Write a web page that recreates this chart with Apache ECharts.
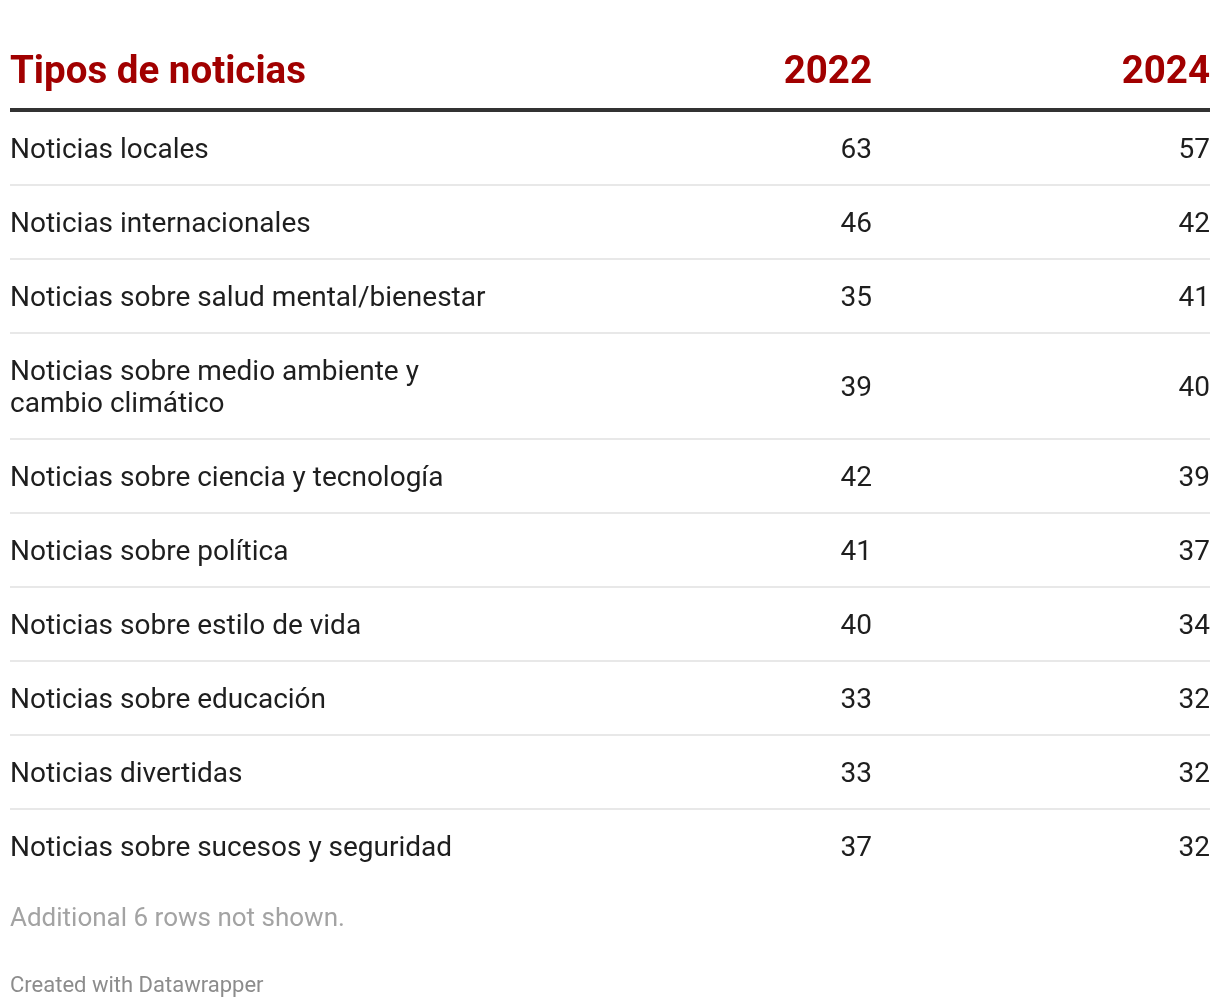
<!DOCTYPE html>
<html>
<head>
<meta charset="utf-8">
<style>
html,body{margin:0;padding:0;background:#fff;}
#chart{width:1220px;height:1008px;}
</style>
<script src="https://cdn.jsdelivr.net/npm/echarts@6/dist/echarts.min.js"></script>
</head>
<body>
<div id="chart"></div>
<script>
const columnHeaders = ['Tipos de noticias', '2022', '2024'];
const categories = [
  'Noticias locales',
  'Noticias internacionales',
  'Noticias sobre salud mental/bienestar',
  'Noticias sobre medio ambiente y\ncambio climático',
  'Noticias sobre ciencia y tecnología',
  'Noticias sobre política',
  'Noticias sobre estilo de vida',
  'Noticias sobre educación',
  'Noticias divertidas',
  'Noticias sobre sucesos y seguridad'
];
const values2022 = [63, 46, 35, 39, 42, 41, 40, 33, 33, 37];
const values2024 = [57, 42, 41, 40, 39, 37, 34, 32, 32, 32];
const footNote = 'Additional 6 rows not shown.';
const credit = 'Created with Datawrapper';

const FONT = 'Roboto, "Noto Sans", sans-serif';
const RED = '#a10000';
const BASE_ROW = 74, EXTRA_LINE = 32;
const COL_RIGHT = [862, 1200];

// build row extents (top/bottom) from line counts
let acc = 0;
const rows = categories.map((c, i) => {
  const lines = c.split('\n').length;
  const h = BASE_ROW + (lines - 1) * EXTRA_LINE;
  const r = [i, acc, acc + h];
  acc += h;
  return r;
});
const totalH = acc;

const chart = echarts.init(document.getElementById('chart'), null, {renderer: 'canvas'});

function renderRow(params, api) {
  const i = api.value(0);
  const top = api.coord([0, api.value(1)]);
  const bot = api.coord([1200, api.value(2)]);
  const cy = (top[1] + bot[1]) / 2 + 3;
  const cs = params.coordSys;
  const children = [];
  children.push({
    type: 'text',
    style: {x: top[0], y: cy, text: categories[i], fill: '#1e1e1e',
      font: '400 28px ' + FONT, lineHeight: 32, align: 'left', verticalAlign: 'middle'}
  });
  [values2022[i], values2024[i]].forEach((v, k) => {
    children.push({
      type: 'text',
      style: {x: api.coord([COL_RIGHT[k], 0])[0], y: cy, text: String(v), fill: '#1e1e1e',
        font: '400 28px ' + FONT, align: 'right', verticalAlign: 'middle'}
    });
  });
  if (i < categories.length - 1) {
    children.push({
      type: 'rect',
      shape: {x: cs.x, y: bot[1] - 1, width: cs.width, height: 2},
      style: {fill: '#e8e8e8'}
    });
  }
  if (i === 0) {
    children.push({
      type: 'rect',
      shape: {x: cs.x, y: cs.y - 3, width: cs.width, height: 4},
      style: {fill: '#333333'}
    });
    columnHeaders.forEach((h, k) => {
      const x = k === 0 ? cs.x : api.coord([COL_RIGHT[k - 1], 0])[0];
      children.push({
        type: 'text',
        style: {x: x, y: cs.y - 38, text: h, fill: RED,
          font: '700 38.5px ' + FONT, align: k === 0 ? 'left' : 'right', verticalAlign: 'middle'}
      });
    });
  }
  return {type: 'group', children: children};
}

chart.setOption({
  animation: false,
  backgroundColor: '#ffffff',
  grid: {left: 10, right: 10, top: 111, height: totalH},
  xAxis: {type: 'value', min: 0, max: 1200, show: false},
  yAxis: {type: 'value', min: 0, max: totalH, inverse: true, show: false},
  series: [{
    type: 'custom',
    renderItem: renderRow,
    data: rows,
    encode: {x: -1, y: [1, 2]},
    silent: true
  }],
  graphic: [
    {type: 'text', left: 10, top: 906, style: {text: footNote, fill: '#a3a3a3', font: '400 26px ' + FONT}},
    {type: 'text', left: 10, top: 975, style: {text: credit, fill: '#8c8c8c', font: '400 22px ' + FONT}}
  ]
});
</script>
</body>
</html>
